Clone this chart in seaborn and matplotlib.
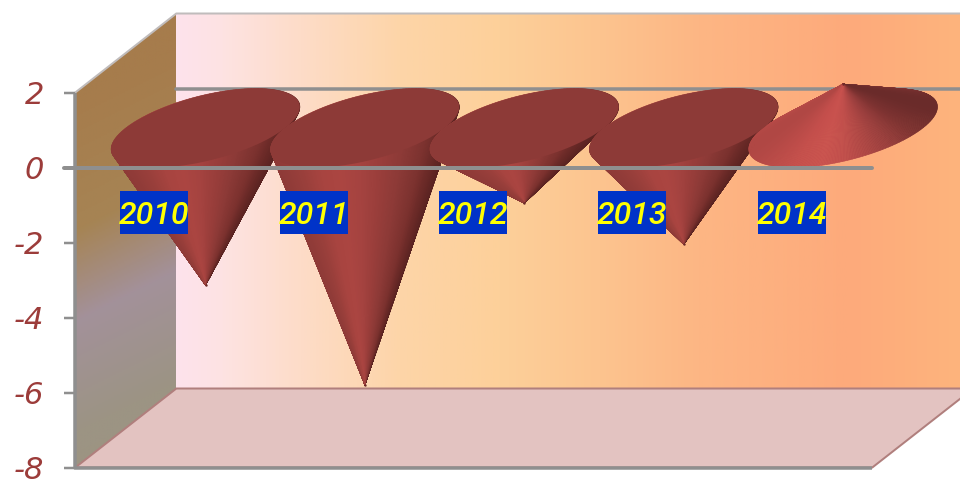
import numpy as np
import seaborn as sns
import matplotlib
matplotlib.use("Agg")
import matplotlib.pyplot as plt
from matplotlib.collections import PolyCollection
from matplotlib.colors import LinearSegmentedColormap
from matplotlib.patches import Polygon, Rectangle

years = ["2010", "2011", "2012", "2013", "2014"]
values = [-4.19, -6.85, -2.0, -3.1, 1.17]
y_ticks = [2, 0, -2, -4, -6, -8]

W, H, DPI = 960, 479, 100
PX_CAT, PX_VAL = 159.4, 37.5        # pixels per category / per value unit
DEPTH_X, DEPTH_Y = 50.5, 39.5       # pixels of shift for one unit of depth
CAT0_PX, VAL0_PX = 205.5, 128.0     # pixel of category 0 / value 0 at mid depth
RADIUS = 0.5                        # cone base radius in categories
CAT_LIM = (-0.5, 4.5)
VAL_LIM = (-8, 2)
PT = 72 / DPI


def proj(cat, val, depth=0.0):
    """Oblique 3D projection onto the flat axes' category/value scale."""
    return (np.asarray(cat) + depth * DEPTH_X / PX_CAT,
            np.asarray(val) + depth * DEPTH_Y / PX_VAL)


sns.set_style("white")
fig = plt.figure(figsize=(W / DPI, H / DPI), dpi=DPI, facecolor="white")
ax = fig.add_axes([0, 0, 1, 1])
XLIM = (-CAT0_PX / PX_CAT, (W - CAT0_PX) / PX_CAT)
YLIM = ((VAL0_PX - H) / PX_VAL, VAL0_PX / PX_VAL)

c0, c1 = CAT_LIM
v0, v1 = VAL_LIM

# back wall
back_cmap = LinearSegmentedColormap.from_list("back", [
    (0.0, "#fde2ec"), (0.055, "#fee3e3"), (0.155, "#fddcc8"), (0.28, "#fdd5a8"),
    (0.406, "#fdd09a"), (0.532, "#fcc48f"), (0.657, "#fdb684"), (0.846, "#fdaa7b"),
    (1.0, "#feb57d")])
bx0, by0 = proj(c0, v0, 1)
bx1, by1 = proj(c1, v1, 1)
ax.imshow(np.linspace(0, 1, 512)[None, :], cmap=back_cmap, aspect="auto",
          extent=(bx0, bx1, by0, by1), zorder=1, vmin=0, vmax=1)

# left wall, diagonal colour drift
wall_cmap = LinearSegmentedColormap.from_list("wall", [
    (0.0, "#a67c4c"), (0.17, "#a67c4c"), (0.43, "#a68454"), (0.61, "#a3919a"),
    (0.83, "#9c9484"), (1.0, "#9c9480")])
lx0, ly0 = proj(c0, v0, -1)
lx1, ly1 = proj(c0, v1, 1)
gx, gy = np.meshgrid(np.linspace(0, 1, 200), np.linspace(0, 1, 300))
lwall = ax.imshow(gy * 0.9 + gx * 0.1, cmap=wall_cmap, aspect="auto", origin="upper",
                  extent=(lx0, lx1, ly0, ly1), zorder=1, vmin=0, vmax=1)
wall_xy = np.array([proj(c0, v0, -1), proj(c0, v0, 1), proj(c0, v1, 1), proj(c0, v1, -1)])
lwall.set_clip_path(Polygon(wall_xy, transform=ax.transData))

# floor
floor_xy = np.array([proj(c0, v0, -1), proj(c0, v0, 1), proj(c1, v0, 1), proj(c1, v0, -1)])
ax.add_patch(Polygon(floor_xy, closed=True, facecolor="#e3c3c1", edgecolor="#b07f7d",
                     lw=2 * PT, zorder=2))

# wall outlines
grey = "#8f8f8f"
ax.plot(*zip(proj(c0, v1, -1), proj(c0, v1, 1), proj(c1, v1, 1)), color="#c0bcbc", lw=2 * PT, zorder=2)
ax.plot(*zip(proj(c0, 0, 1), proj(c1, 0, 1)), color=grey, lw=3.5 * PT, zorder=3)

# cones
theta = np.linspace(0, 2 * np.pi, 361)
dn_cmap = sns.blend_palette(["#8e3a37", "#993f3b", "#a84440", "#ab4541", "#a54340", "#9a3e3b",
                             "#8d3a37", "#7c322f", "#5a2321"], as_cmap=True)
up_cmap = sns.blend_palette(["#b04744", "#bb4b48", "#c54f4c", "#c9524e", "#c04e4b", "#ad4644",
                             "#973d3c", "#7d3231", "#6a2b2a"], as_cmap=True)
caps = []
for i, val in enumerate(values):
    bx, by = proj(i + RADIUS * np.cos(theta), 0.0 * theta, np.sin(theta))
    if val < 0:
        ang = np.arctan2((bx - i) * PX_CAT, (by - val) * PX_VAL)
        t = (ang - ang.min()) / (ang.max() - ang.min())
        if bx[np.argmin(ang)] > bx[np.argmax(ang)]:
            t = 1 - t
    else:
        t = (bx - bx.min()) / (bx.max() - bx.min())
    order = np.argsort(-np.sin(theta[:-1]))
    tris, cols = [], []
    cmap = dn_cmap if val < 0 else up_cmap
    for k in order:
        tris.append([(i, val), (bx[k], by[k]), (bx[k + 1], by[k + 1])])
        cols.append(cmap(float(t[k])))
    ax.add_collection(PolyCollection(tris, facecolors=cols, edgecolors=cols, linewidths=0.4, zorder=4 + i * 0.01))
    if val < 0:
        caps.append((bx, by, i))
for bx, by, i in caps:
    ax.fill(bx, by, color="#8d3a37", lw=0, zorder=5 + i * 0.01)

sns.scatterplot(x=list(range(len(values))), y=values, s=3, color="#6a2a28", linewidth=0,
                legend=False, ax=ax, zorder=4.5)

# front axis lines and ticks
ax.plot(*zip(proj(c0, v1, -1), proj(c0, v0, -1), proj(c1, v0, -1)), color=grey, lw=3.5 * PT,
        zorder=6, solid_capstyle="butt")
tick_dx = 11 / PX_CAT
for v in y_ticks:
    tx, ty = proj(c0, v, -1)
    ax.plot([tx - tick_dx, tx], [ty, ty], color=grey, lw=2.5 * PT, zorder=6, solid_capstyle="butt")
    ax.annotate(str(v), (tx, ty), xytext=(-31 * PT, 0), textcoords="offset points",
                ha="right", va="center_baseline", fontsize=22, color="#9c3c3a",
                family="DejaVu Sans", style="oblique", weight="normal", zorder=7,
                annotation_clip=False)
ax.plot(*zip(proj(c0 - tick_dx, 0, -1), proj(c1, 0, -1)), color=grey, lw=4 * PT, zorder=6,
        solid_capstyle="round")

# category labels, hanging below the front zero line
box_w, box_h = 68 / PX_CAT, 43 / PX_VAL
for i, year in enumerate(years):
    tx, ty = proj(i - 0.005, -1.2, -1)
    ax.add_patch(Rectangle((tx - box_w / 2, ty - box_h / 2), box_w, box_h,
                           facecolor="#0033c8", edgecolor="none", zorder=7.5))
    ax.text(tx, ty, year, ha="center", va="center_baseline", fontsize=23, color="#ffff00",
            family="Roboto", style="italic", weight="medium", zorder=8)

ax.set_xlim(*XLIM)
ax.set_ylim(*YLIM)
ax.axis("off")
fig.savefig("out.png", dpi=DPI, facecolor="white")
